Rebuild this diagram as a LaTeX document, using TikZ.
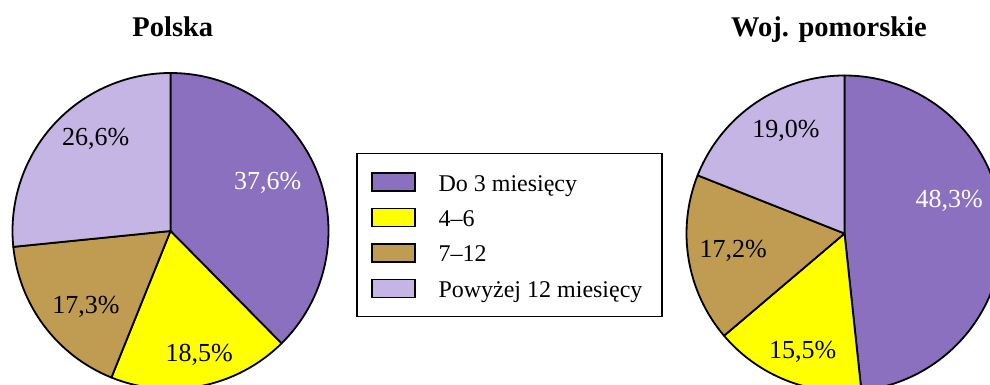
\documentclass[tikz,border=0pt]{standalone}
\usepackage{fontspec}
\setmainfont{Liberation Serif}
\definecolor{cpurple}{RGB}{138,112,190}
\definecolor{cyellow}{RGB}{255,255,0}
\definecolor{cbrown}{RGB}{192,155,82}
\definecolor{clav}{RGB}{196,181,229}
\tikzset{
  slice/.style={draw=black, line width=1.8pt, line join=round},
  pct/.style={inner sep=0pt, anchor=base, font=\fontsize{26}{30}\selectfont},
  ttl/.style={inner sep=0pt, anchor=base, font=\fontsize{28.5}{32}\selectfont\bfseries},
  legtxt/.style={inner sep=0pt, anchor=base west, font=\fontsize{24}{28}\selectfont},
  swatch/.style={draw=black, line width=1.5pt, minimum width=43pt, minimum height=18pt, inner sep=0pt},
  legbox/.style={draw=black, line width=1.3pt}
}
\begin{document}
\begin{tikzpicture}[x=1pt, y=-1pt]
\useasboundingbox (0,0) rectangle (990,385);
\clip (0,0) rectangle (990,385);
% left pie
\begin{scope}[shift={(170.5,231)}, yscale=-1]
  \def\r{158}
  \filldraw[slice, fill=cpurple] (0,0) -- (90:\r) arc[start angle=90, end angle=-45.36, radius=\r] -- cycle;
  \filldraw[slice, fill=cyellow] (0,0) -- (-45.36:\r) arc[start angle=-45.36, end angle=-111.96, radius=\r] -- cycle;
  \filldraw[slice, fill=cbrown] (0,0) -- (-111.96:\r) arc[start angle=-111.96, end angle=-174.24, radius=\r] -- cycle;
  \filldraw[slice, fill=clav] (0,0) -- (-174.24:\r) arc[start angle=-174.24, end angle=-270, radius=\r] -- cycle;
\end{scope}
% right pie
\begin{scope}[shift={(844.5,233.5)}, yscale=-1]
  \def\r{158}
  \filldraw[slice, fill=cpurple] (0,0) -- (90:\r) arc[start angle=90, end angle=-83.88, radius=\r] -- cycle;
  \filldraw[slice, fill=cyellow] (0,0) -- (-83.88:\r) arc[start angle=-83.88, end angle=-139.68, radius=\r] -- cycle;
  \filldraw[slice, fill=cbrown] (0,0) -- (-139.68:\r) arc[start angle=-139.68, end angle=-201.6, radius=\r] -- cycle;
  \filldraw[slice, fill=clav] (0,0) -- (-201.6:\r) arc[start angle=-201.6, end angle=-270, radius=\r] -- cycle;
\end{scope}
% labels left
\node[pct, text=white] (l1) at (267.7,189.5) {37,6\%};
\node[pct] (l2) at (199.3,361.5) {18,5\%};
\node[pct] (l3) at (86,313.8) {17,3\%};
\node[pct] (l4) at (95.7,145.5) {26,6\%};
% labels right
\node[pct, text=white] (r1) at (949.3,207) {48,3\%};
\node[pct] (r2) at (802.7,358) {15,5\%};
\node[pct] (r3) at (733.3,257) {17,2\%};
\node[pct] (r4) at (786,137.8) {19,0\%};
% titles
\node[ttl] (t1) at (172.8,37) {Polska};
\node[ttl] (t2) at (829,37) {Woj. pomorskie};
% legend
\draw[legbox] (357,153.5) rectangle (662,316.5);
\node[swatch, fill=cpurple] (s1) at (393.5,182) {};
\node[swatch, fill=cyellow] (s2) at (393.5,217.5) {};
\node[swatch, fill=cbrown] (s3) at (393.5,253) {};
\node[swatch, fill=clav] (s4) at (393.5,288.5) {};
\node[legtxt] (g1) at (438.3,191) {Do 3 miesięcy};
\node[legtxt] (g2) at (438.3,226.3) {4–6};
\node[legtxt] (g3) at (438.3,261.7) {7–12};
\node[legtxt] (g4) at (438.3,297) {Powyżej 12 miesięcy};
\end{tikzpicture}
\end{document}
